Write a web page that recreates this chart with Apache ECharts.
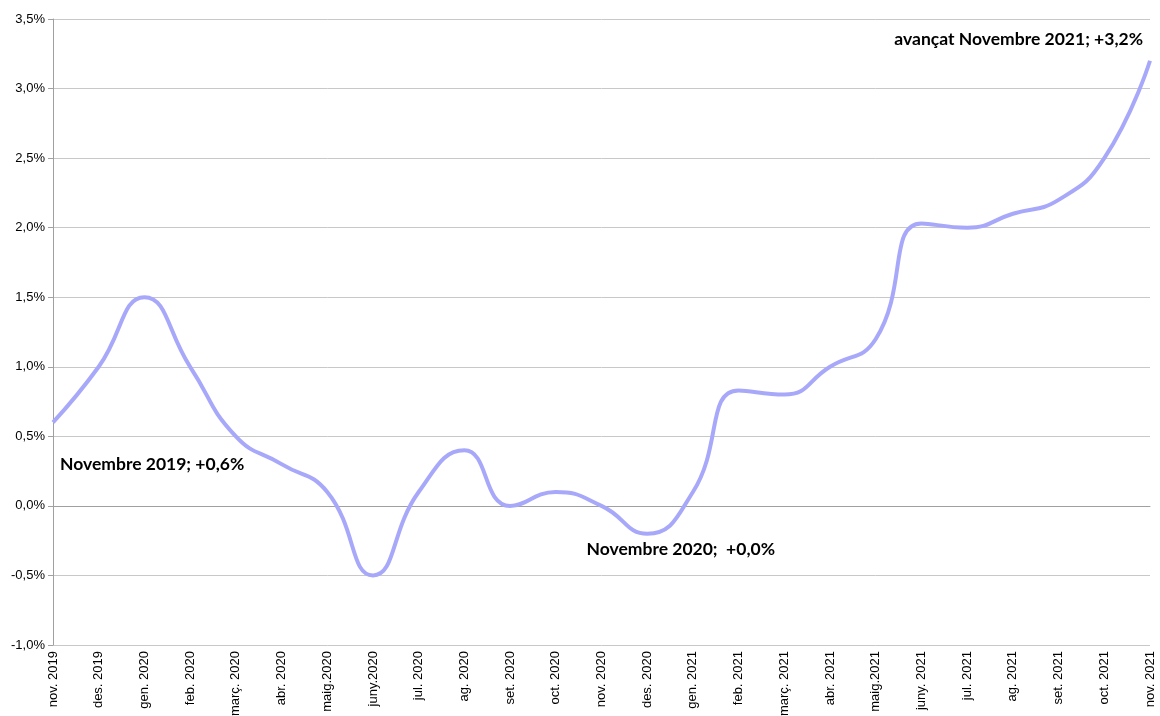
<!DOCTYPE html>
<html>
<head>
<meta charset="utf-8">
<script src="https://cdn.jsdelivr.net/npm/echarts@6/dist/echarts.min.js"></script>
<style>
  html, body { margin: 0; padding: 0; background: #fff; }
  #chart { width: 1160px; height: 716px; }
</style>
</head>
<body>
<div id="chart"></div>
<script>
// mesos (eix x)
var months = ['nov. 2019', 'des. 2019', 'gen. 2020', 'feb. 2020', 'març. 2020', 'abr. 2020',
  'maig.2020', 'juny.2020', 'jul. 2020', 'ag. 2020', 'set. 2020', 'oct. 2020', 'nov. 2020',
  'des. 2020', 'gen. 2021', 'feb. 2021', 'març. 2021', 'abr. 2021', 'maig.2021', 'juny. 2021',
  'jul. 2021', 'ag. 2021', 'set. 2021', 'oct. 2021', 'nov. 2021'];
// variació interanual (%)
var values = [0.6, 1.0, 1.5, 1.0, 0.5, 0.3, 0.1, -0.5, 0.1, 0.4, 0.0, 0.1, 0.0,
  -0.2, 0.1, 0.83, 0.8, 1.0, 1.2, 2.03, 2.0, 2.1, 2.2, 2.5, 3.2];
var notes = ['Novembre 2019; +0,6%', 'Novembre 2020;  +0,0%', 'avançat Novembre 2021; +3,2%'];

var chart = echarts.init(document.getElementById('chart'));
var gridColors = ['#c8c8c8', '#c8c8c8', '#999999', '#c8c8c8', '#c8c8c8', '#c8c8c8',
  '#c8c8c8', '#c8c8c8', '#c8c8c8', '#c8c8c8'];
var noteStyle = { fontFamily: 'Lato', fontWeight: 'bold', fontSize: 17.5, color: '#000' };

var option = {
  backgroundColor: '#fff',
  animation: false,
  grid: { left: 53, right: 10, top: 19, bottom: 71, outerBoundsMode: 'none' },
  xAxis: {
    type: 'category',
    data: months,
    boundaryGap: false,
    axisLine: { show: true, lineStyle: { color: '#a0a0a0', width: 1 } },
    axisTick: { show: false },
    axisLabel: {
      rotate: 90,
      interval: 0,
      margin: 6,
      fontFamily: 'Liberation Sans',
      fontSize: 13,
      color: '#000'
    },
    splitLine: { show: false }
  },
  yAxis: {
    type: 'value',
    min: -1.0,
    max: 3.5,
    interval: 0.5,
    axisLine: { show: true, lineStyle: { color: '#a0a0a0', width: 1 } },
    axisTick: { show: true, length: 5, lineStyle: { color: '#a0a0a0' } },
    axisLabel: {
      margin: 8,
      fontFamily: 'Liberation Sans',
      fontSize: 13,
      color: '#000',
      formatter: function (v) { return v.toFixed(1).replace('.', ',') + '%'; }
    },
    splitLine: { show: true, lineStyle: { color: gridColors, width: 1 } }
  },
  series: [{
    type: 'line',
    data: values,
    smooth: 0.5,
    symbol: 'none',
    lineStyle: { color: '#a8a8fa', width: 4 },
    markPoint: {
      symbol: 'circle',
      symbolSize: 0,
      silent: true,
      data: [
        { coord: [0, 0.6], label: { show: true, formatter: notes[0], position: 'right',
          offset: [2, 42], align: 'left', ...noteStyle } },
        { coord: [12, 0.0], label: { show: true, formatter: notes[1], position: 'right',
          offset: [-20, 43], align: 'left', ...noteStyle } },
        { coord: [24, 3.2], label: { show: true, formatter: notes[2], position: 'left',
          offset: [-2, -21], align: 'right', ...noteStyle } }
      ]
    }
  }]
};

chart.setOption(option);
</script>
</body>
</html>
